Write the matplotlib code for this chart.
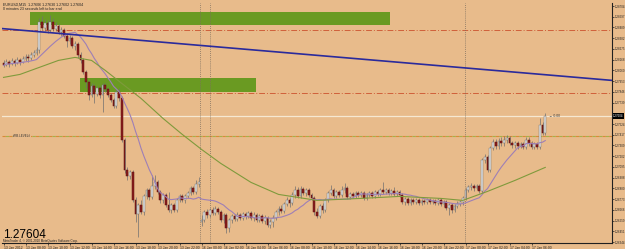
import numpy as np
import pandas as pd
import matplotlib
matplotlib.use('Agg')
import matplotlib.pyplot as plt
from matplotlib.patches import Rectangle

plt.rcParams['font.family'] = ['Liberation Sans', 'DejaVu Sans']

# EURUSD M15, 13 Jan 2012 06:00 -> 17 Jan 2012 07:15
first_open = 1.2813
monday_bar = 72          # first bar after the weekend
monday_open = 1.2654

closes = [
    1.2811, 1.2814, 1.2812, 1.2815, 1.2813, 1.2816, 1.2814, 1.2817, 1.2819, 1.2818,
    1.2821, 1.2823, 1.2826, 1.2854, 1.2848, 1.2853, 1.2846, 1.2854, 1.2847, 1.2850,
    1.2844, 1.2846, 1.2840, 1.2835, 1.2838, 1.2830, 1.2832, 1.2821, 1.2816, 1.2804,
    1.2794, 1.2781, 1.2790, 1.2782, 1.2788, 1.2781, 1.2791, 1.2787, 1.2781, 1.2776,
    1.2770, 1.2784, 1.2778, 1.2736, 1.2706, 1.2700, 1.2704, 1.2676, 1.2662, 1.2671,
    1.2664, 1.2680, 1.2686, 1.2679, 1.2690, 1.2694, 1.2684, 1.2676, 1.2681, 1.2671,
    1.2666, 1.2671, 1.2666, 1.2676, 1.2680, 1.2676, 1.2680, 1.2683, 1.2688, 1.2684,
    1.2692, 1.2694, 1.2656, 1.2664, 1.2661, 1.2666, 1.2663, 1.2667, 1.2664, 1.2656,
    1.2661, 1.2648, 1.2656, 1.2660, 1.2657, 1.2661, 1.2658, 1.2662, 1.2660, 1.2663,
    1.2658, 1.2661, 1.2656, 1.2660, 1.2655, 1.2658, 1.2651, 1.2654, 1.2658, 1.2664,
    1.2667, 1.2665, 1.2672, 1.2676, 1.2673, 1.2681, 1.2686, 1.2680, 1.2687, 1.2683,
    1.2686, 1.2681, 1.2678, 1.2664, 1.2660, 1.2670, 1.2666, 1.2676, 1.2683, 1.2686,
    1.2680, 1.2684, 1.2681, 1.2686, 1.2688, 1.2679, 1.2682, 1.2680, 1.2683, 1.2681,
    1.2683, 1.2678, 1.2681, 1.2683, 1.2680, 1.2684, 1.2682, 1.2686, 1.2684, 1.2686,
    1.2683, 1.2685, 1.2682, 1.2684, 1.2681, 1.2674, 1.2677, 1.2673, 1.2676, 1.2674,
    1.2676, 1.2673, 1.2675, 1.2674, 1.2676, 1.2674, 1.2675, 1.2673, 1.2676, 1.2672,
    1.2674, 1.2668, 1.2671, 1.2666, 1.2670, 1.2672, 1.2674, 1.2678, 1.2686, 1.2689,
    1.2690, 1.2688, 1.2690, 1.2685, 1.2716, 1.2719, 1.2706, 1.2728, 1.2734, 1.2730,
    1.2735, 1.2733, 1.2736, 1.2738, 1.2733, 1.2731, 1.2733, 1.2730, 1.2732, 1.2729,
    1.2736, 1.2733, 1.2729, 1.2732, 1.2729, 1.2751, 1.2743, 1.2760,
]
highs = [
    1.2816, 1.2817, 1.2816, 1.2818, 1.2817, 1.2819, 1.2818, 1.2820, 1.2822, 1.2822,
    1.2824, 1.2826, 1.2829, 1.2858, 1.2860, 1.2857, 1.2856, 1.2861, 1.2858, 1.2854,
    1.2852, 1.2849, 1.2848, 1.2843, 1.2841, 1.2840, 1.2835, 1.2834, 1.2824, 1.2818,
    1.2806, 1.2796, 1.2793, 1.2792, 1.2790, 1.2790, 1.2793, 1.2793, 1.2789, 1.2783,
    1.2778, 1.2786, 1.2788, 1.2780, 1.2738, 1.2709, 1.2706, 1.2706, 1.2679, 1.2673,
    1.2676, 1.2682, 1.2688, 1.2688, 1.2701, 1.2701, 1.2696, 1.2686, 1.2683, 1.2683,
    1.2684, 1.2673, 1.2673, 1.2678, 1.2682, 1.2682, 1.2682, 1.2685, 1.2690, 1.2690,
    1.2696, 1.2699, 1.2661, 1.2666, 1.2667, 1.2668, 1.2669, 1.2670, 1.2669, 1.2666,
    1.2663, 1.2663, 1.2658, 1.2662, 1.2662, 1.2664, 1.2663, 1.2664, 1.2664, 1.2665,
    1.2665, 1.2664, 1.2663, 1.2662, 1.2662, 1.2661, 1.2660, 1.2657, 1.2661, 1.2666,
    1.2670, 1.2671, 1.2674, 1.2679, 1.2678, 1.2684, 1.2690, 1.2689, 1.2690, 1.2689,
    1.2688, 1.2688, 1.2683, 1.2680, 1.2668, 1.2672, 1.2673, 1.2678, 1.2685, 1.2691,
    1.2688, 1.2686, 1.2686, 1.2690, 1.2693, 1.2690, 1.2684, 1.2684, 1.2685, 1.2685,
    1.2685, 1.2685, 1.2683, 1.2685, 1.2685, 1.2686, 1.2686, 1.2688, 1.2694, 1.2688,
    1.2688, 1.2687, 1.2689, 1.2686, 1.2686, 1.2683, 1.2679, 1.2679, 1.2678, 1.2678,
    1.2678, 1.2678, 1.2677, 1.2677, 1.2678, 1.2678, 1.2677, 1.2677, 1.2678, 1.2678,
    1.2676, 1.2676, 1.2673, 1.2673, 1.2672, 1.2675, 1.2676, 1.2680, 1.2688, 1.2691,
    1.2693, 1.2692, 1.2692, 1.2692, 1.2718, 1.2722, 1.2721, 1.2730, 1.2737, 1.2737,
    1.2738, 1.2739, 1.2740, 1.2741, 1.2740, 1.2735, 1.2735, 1.2735, 1.2734, 1.2734,
    1.2739, 1.2739, 1.2735, 1.2734, 1.2734, 1.2758, 1.2754, 1.2763,
]
lows = [
    1.2809, 1.2810, 1.2809, 1.2811, 1.2810, 1.2812, 1.2811, 1.2813, 1.2815, 1.2814,
    1.2816, 1.2819, 1.2821, 1.2823, 1.2846, 1.2845, 1.2843, 1.2844, 1.2845, 1.2845,
    1.2842, 1.2840, 1.2838, 1.2829, 1.2832, 1.2828, 1.2826, 1.2818, 1.2813, 1.2802,
    1.2788, 1.2776, 1.2779, 1.2773, 1.2780, 1.2778, 1.2764, 1.2784, 1.2779, 1.2774,
    1.2768, 1.2768, 1.2775, 1.2734, 1.2703, 1.2696, 1.2697, 1.2674, 1.2654, 1.2639,
    1.2662, 1.2661, 1.2677, 1.2676, 1.2677, 1.2687, 1.2682, 1.2673, 1.2673, 1.2669,
    1.2664, 1.2663, 1.2664, 1.2664, 1.2674, 1.2674, 1.2673, 1.2678, 1.2681, 1.2682,
    1.2682, 1.2689, 1.2650, 1.2654, 1.2658, 1.2659, 1.2661, 1.2661, 1.2662, 1.2654,
    1.2653, 1.2643, 1.2644, 1.2653, 1.2655, 1.2655, 1.2656, 1.2656, 1.2657, 1.2658,
    1.2656, 1.2655, 1.2654, 1.2654, 1.2653, 1.2652, 1.2649, 1.2648, 1.2649, 1.2656,
    1.2661, 1.2663, 1.2663, 1.2670, 1.2669, 1.2671, 1.2678, 1.2678, 1.2678, 1.2681,
    1.2680, 1.2679, 1.2676, 1.2661, 1.2658, 1.2658, 1.2663, 1.2664, 1.2674, 1.2681,
    1.2678, 1.2678, 1.2679, 1.2679, 1.2683, 1.2677, 1.2677, 1.2678, 1.2678, 1.2679,
    1.2679, 1.2676, 1.2676, 1.2679, 1.2678, 1.2678, 1.2680, 1.2680, 1.2682, 1.2682,
    1.2681, 1.2681, 1.2680, 1.2680, 1.2679, 1.2672, 1.2671, 1.2671, 1.2671, 1.2672,
    1.2672, 1.2671, 1.2671, 1.2672, 1.2672, 1.2672, 1.2672, 1.2671, 1.2671, 1.2670,
    1.2669, 1.2666, 1.2661, 1.2663, 1.2664, 1.2668, 1.2670, 1.2671, 1.2676, 1.2684,
    1.2686, 1.2685, 1.2686, 1.2683, 1.2683, 1.2713, 1.2704, 1.2704, 1.2726, 1.2727,
    1.2727, 1.2730, 1.2730, 1.2733, 1.2731, 1.2728, 1.2728, 1.2727, 1.2728, 1.2727,
    1.2727, 1.2730, 1.2727, 1.2727, 1.2727, 1.2727, 1.2741, 1.2741,
]

# slow moving average at some bars
slow_ma_bars = [0, 6, 13, 20, 26, 32, 37, 43, 50, 58, 65, 72, 79, 90, 100, 114,
                130, 144, 159, 167, 176, 186, 197]
slow_ma = [1.2799, 1.2802, 1.2809, 1.2816, 1.2819, 1.2816, 1.2806, 1.2793, 1.2778,
           1.2758, 1.2742, 1.2727, 1.2713, 1.2694, 1.2682, 1.2676, 1.2678, 1.2680,
           1.2678, 1.2676, 1.2685, 1.2696, 1.2709]
fast_period = 14

# chart objects
zone_bars = [(9.6, 140.5), (27.8, 91.8)]
zone_prices = [(1.2851, 1.2864), (1.2784, 1.2798)]
trend_bars = [-1.3, 221.3]
trend_prices = [1.2848, 1.2796]
red_levels = [1.2846, 1.2783]
fib_level = 1.2740
bid = 1.27604
separator_bars = [71.45, 75.1, 167.8]

bg = '#e8bb8b'

n = len(closes)
c = np.array(closes)
h = np.array(highs)
l = np.array(lows)
o = np.r_[first_open, c[:-1]]
o[monday_bar] = monday_open
idx = np.arange(n)

times = list(pd.date_range('2012-01-13 06:00', periods=monday_bar, freq='15min')) + \
    list(pd.date_range('2012-01-16 00:00', periods=n - monday_bar, freq='15min'))

fig = plt.figure(figsize=(6.25, 2.49), dpi=100, facecolor=bg)
ax = fig.add_axes([2 / 625, 6 / 249, 610 / 625, 240 / 249])
ax.set_facecolor(bg)
ax.set_xlim(-0.55, 221.27)
ax.set_ylim(1.26334, 1.28734)

# zones
for (b0, b1), (p0, p1) in zip(zone_bars, zone_prices):
    ax.add_patch(Rectangle((b0, p0), b1 - b0, p1 - p0, facecolor='#6a9a22',
                           edgecolor='none', zorder=1))

for lv in red_levels:
    ax.axhline(lv, color='#d0603a', lw=0.7, ls=(0, (6, 2, 1, 2)), zorder=2)
ax.axhline(fib_level, color='#d98a3a', lw=0.8, ls=(0, (3, 3)), zorder=2)
ax.axhline(fib_level, color='#a7b04a', lw=0.8, ls=(3, (3, 3)), zorder=2)
ax.axhline(bid, color='#f6e8d2', lw=0.9, zorder=2)
for sb in separator_bars:
    ax.axvline(sb, color='#7d6f60', lw=0.6, ls=(0, (1, 1.5)), zorder=2)

# candles
up = c >= o
body_lo = np.minimum(o, c)
body_h = np.maximum(np.abs(c - o), 0.00004)
ax.vlines(idx, l, h, color='#707070', lw=0.5, zorder=3)
ax.bar(idx[up], body_h[up], 0.62, bottom=body_lo[up], color='#e2e2e2',
       edgecolor='#7a7a7a', lw=0.35, zorder=4)
ax.bar(idx[~up], body_h[~up], 0.62, bottom=body_lo[~up], color='#8a1c1c',
       edgecolor='#5c1212', lw=0.35, zorder=4)

# moving averages
fast_ma = pd.Series(c).rolling(fast_period, min_periods=1).mean()
ax.plot(idx, fast_ma, color='#9e7fb6', lw=0.8, zorder=5)
ax.plot(slow_ma_bars, slow_ma, color='#7f9a3c', lw=0.8, zorder=5)

ax.plot(trend_bars, trend_prices, color='#2a2a9c', lw=1.2, zorder=5)

# axes like the terminal
for s in ['left', 'top']:
    ax.spines[s].set_visible(False)
for s in ['right', 'bottom']:
    ax.spines[s].set_color('#202020')
    ax.spines[s].set_linewidth(0.8)

yt = np.linspace(1.28704, 1.26344, 23)
yt = yt[np.abs(yt - bid) > 0.0006]
ax.yaxis.tick_right()
ax.set_yticks(yt)
ax.set_yticklabels(['%.5f' % v for v in yt])
ax.tick_params(axis='y', length=1.3, width=0.5, labelsize=2.05, pad=0.5, colors='#202020')

xt = idx[::8]
ax.set_xticks(xt)
xl = [t.strftime('%d %b %H:%M') for t in (times[i] for i in xt)]
xl[0] = '13 Jan 2012'
ax.set_xticklabels(xl, ha='left')
ax.tick_params(axis='x', length=1.5, width=0.5, labelsize=2.4, pad=0.5, colors='#202020')

ax.text(1.002, bid, '%.5f' % bid, transform=ax.get_yaxis_transform(), fontsize=2.05,
        color='white', va='center', ha='left',
        bbox=dict(facecolor='black', edgecolor='none', pad=0.5))

# labels on the chart
fig.text(3 / 625, 1 - 4.5 / 249, 'EURUSD,M15  1.27606 1.27630 1.27602 1.27604',
         fontsize=2.6, color='#202020', va='center')
fig.text(3 / 625, 1 - 9.5 / 249, '0 minutes 23 seconds left to bar end',
         fontsize=2.6, color='#202020', va='center')
ax.text(3.5, fib_level, '#FIB.LEVEL#', fontsize=2.2, color='#303030', va='center',
        bbox=dict(facecolor=bg, edgecolor='none', pad=0.2))
ax.text(idx[-1] + 1.5, bid, '\u2190 0.00', fontsize=2.4, color='#303030', va='center')
fig.text(3 / 625, 1 - 237.6 / 249, '%.5f' % bid, fontsize=8.5, color='black',
         va='baseline')
fig.text(3 / 625, 1 - 241.4 / 249, 'MetaTrader 4, \u00a9 2001-2010 MetaQuotes Software Corp.',
         fontsize=2.2, color='#202020', va='center')

fig.savefig('out.png', dpi=100, facecolor=bg)
